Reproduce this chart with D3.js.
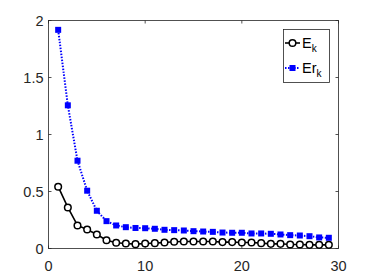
<!DOCTYPE html>
<html>
<head>
    <meta charset="utf-8">
    <script src="https://d3js.org/d3.v7.min.js"></script>
    <style>
        body { margin: 0; background: #fff; }
        text { font-family: "Liberation Sans", Arial, sans-serif; fill: #262626; }
    </style>
</head>
<body>
    <div id="cont"></div>

    <script>
        // iteration index
        var k = d3.range(1, 30);
        var ek = [0.542, 0.36, 0.202, 0.167, 0.123, 0.073, 0.05, 0.044, 0.038, 0.044,
                  0.047, 0.053, 0.059, 0.061, 0.061, 0.061, 0.061, 0.056, 0.056, 0.053,
                  0.053, 0.047, 0.041, 0.041, 0.035, 0.035, 0.032, 0.032, 0.032];
        var erk = [1.918, 1.256, 0.77, 0.507, 0.331, 0.24, 0.202, 0.187, 0.18, 0.178,
                   0.173, 0.164, 0.161, 0.158, 0.152, 0.149, 0.146, 0.14, 0.138, 0.138,
                   0.132, 0.132, 0.129, 0.123, 0.117, 0.114, 0.108, 0.097, 0.094];
        var xTicks = [0, 10, 20, 30];
        var yTicks = [0, 0.5, 1, 1.5, 2];

        var svg = d3.select("#cont").append("svg")
            .attr("width", 374)
            .attr("height", 280);

        var pLeft = 48.5, pRight = 338.5, pTop = 20.5, pBottom = 248.5;
        var x = d3.scaleLinear().domain([0, 30]).range([pLeft, pRight]);
        var y = d3.scaleLinear().domain([0, 2]).range([pBottom, pTop]);
        var axisCol = "#262626";

        // axes box + inward ticks
        svg.append("rect")
            .attr("x", pLeft).attr("y", pTop)
            .attr("width", pRight - pLeft).attr("height", pBottom - pTop)
            .attr("fill", "#fff").attr("stroke", axisCol).attr("stroke-width", 0.8);

        var tl = 3;
        svg.append("g").selectAll("line").data(yTicks).enter().append("line")
            .attr("x1", pLeft).attr("x2", pLeft + tl)
            .attr("y1", function (d) { return y(d); }).attr("y2", function (d) { return y(d); })
            .attr("stroke", axisCol).attr("stroke-width", 0.8);
        svg.append("g").selectAll("line").data(yTicks).enter().append("line")
            .attr("x1", pRight).attr("x2", pRight - tl)
            .attr("y1", function (d) { return y(d); }).attr("y2", function (d) { return y(d); })
            .attr("stroke", axisCol).attr("stroke-width", 0.8);
        svg.append("g").selectAll("line").data(xTicks).enter().append("line")
            .attr("x1", function (d) { return x(d); }).attr("x2", function (d) { return x(d); })
            .attr("y1", pBottom).attr("y2", pBottom - tl)
            .attr("stroke", axisCol).attr("stroke-width", 0.8);
        svg.append("g").selectAll("line").data(xTicks).enter().append("line")
            .attr("x1", function (d) { return x(d); }).attr("x2", function (d) { return x(d); })
            .attr("y1", pTop).attr("y2", pTop + tl)
            .attr("stroke", axisCol).attr("stroke-width", 0.8);

        svg.append("g").selectAll("text").data(yTicks).enter().append("text")
            .attr("x", pLeft - 5)
            .attr("y", function (d) { return y(d) + 5; })
            .attr("text-anchor", "end")
            .style("font-size", "14.5px")
            .text(function (d) { return d; });
        svg.append("g").selectAll("text").data(xTicks).enter().append("text")
            .attr("x", function (d) { return x(d); })
            .attr("y", 271)
            .attr("text-anchor", "middle")
            .style("font-size", "14.5px")
            .text(function (d) { return d; });

        var ekPts = k.map(function (d, i) { return [d, ek[i]]; });
        var erkPts = k.map(function (d, i) { return [d, erk[i]]; });
        var line = d3.line()
            .x(function (d) { return x(d[0]); })
            .y(function (d) { return y(d[1]); });

        // Ek: black solid, open circles
        svg.append("path").datum(ekPts)
            .attr("d", line).attr("fill", "none")
            .attr("stroke", "#000").attr("stroke-width", 1.6);
        svg.append("g").selectAll("circle").data(ekPts).enter().append("circle")
            .attr("cx", function (d) { return x(d[0]); })
            .attr("cy", function (d) { return y(d[1]); })
            .attr("r", 3.3)
            .attr("fill", "#fff").attr("stroke", "#000").attr("stroke-width", 1.5);

        // Erk: blue dotted, filled squares
        svg.append("path").datum(erkPts)
            .attr("d", line).attr("fill", "none")
            .attr("stroke", "#0000ff").attr("stroke-width", 2)
            .attr("stroke-dasharray", "1.5,1.5");
        svg.append("g").selectAll("rect").data(erkPts).enter().append("rect")
            .attr("x", function (d) { return x(d[0]) - 3; })
            .attr("y", function (d) { return y(d[1]) - 3; })
            .attr("width", 6).attr("height", 6)
            .attr("fill", "#0000ff");

        // legend
        var lg = svg.append("g");
        lg.append("rect")
            .attr("x", 283.5).attr("y", 29.5).attr("width", 46).attr("height", 53)
            .attr("fill", "#fff").attr("stroke", axisCol).attr("stroke-width", 0.8);
        var entries = [
            { name: "E", color: "#000", dash: null, mark: "circle", cy: 43 },
            { name: "Er", color: "#0000ff", dash: "1.5,1.5", mark: "square", cy: 68 }
        ];
        entries.forEach(function (e) {
            lg.append("line")
                .attr("x1", 285).attr("x2", 300).attr("y1", e.cy).attr("y2", e.cy)
                .attr("stroke", e.color).attr("stroke-width", e.dash ? 2 : 1.6)
                .attr("stroke-dasharray", e.dash);
            if (e.mark === "circle") {
                lg.append("circle").attr("cx", 292.5).attr("cy", e.cy).attr("r", 3.3)
                    .attr("fill", "#fff").attr("stroke", "#000").attr("stroke-width", 1.5);
            } else {
                lg.append("rect").attr("x", 289.5).attr("y", e.cy - 3)
                    .attr("width", 6).attr("height", 6).attr("fill", "#0000ff");
            }
            var t = lg.append("text").attr("x", 302).attr("y", e.cy + 5)
                .style("font-size", "14.5px").style("fill", "#000");
            t.append("tspan").text(e.name);
            t.append("tspan").attr("dy", 4).style("font-size", "10px").text("k");
        });
    </script>
</body>
</html>
